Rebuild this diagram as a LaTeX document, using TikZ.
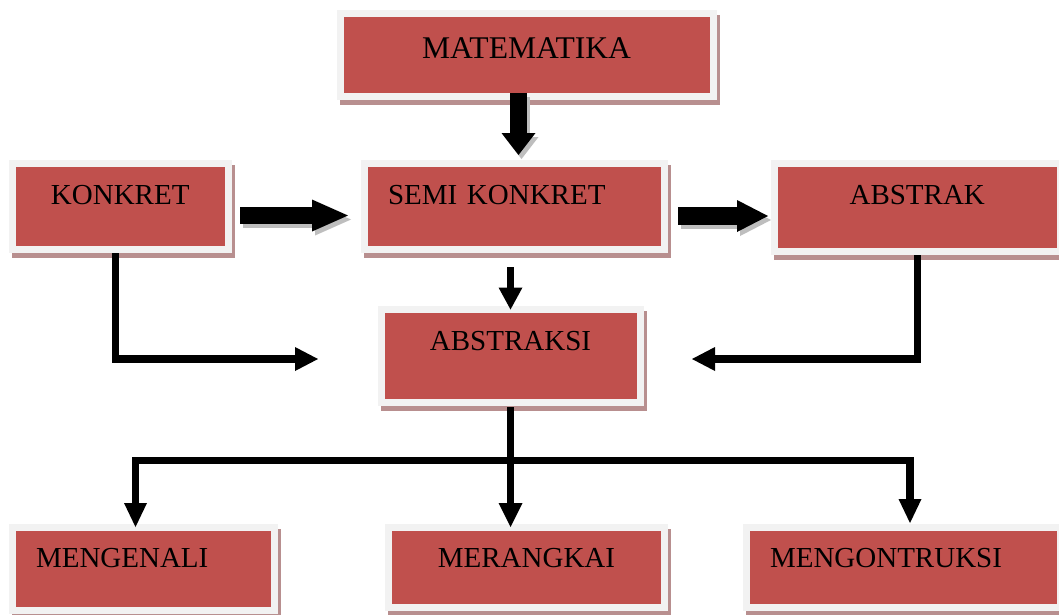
\documentclass[tikz,border=0pt]{standalone}
\usepackage{fontspec}
\setmainfont{Liberation Serif}
\usetikzlibrary{arrows.meta,calc}
\definecolor{boxred}{HTML}{C0504D}
\definecolor{boxframe}{HTML}{F2F2F2}
\definecolor{boxshadow}{RGB}{184,143,143}
\definecolor{arrowshadow}{RGB}{190,190,190}
\tikzset{
  box/.style={fill=boxred, draw=boxframe, line width=7pt, inner sep=0pt, outer sep=0pt,
    anchor=north west, text=black, font=\fontsize{29}{34}\selectfont,
    preaction={draw=boxshadow, fill=boxshadow, transform canvas={shift={(3,5)}}}},
  blockarrow/.style args={#1/#2/#3}{line width=#1, draw=black,
    -{Triangle[length=#3 0 0, width=#2 0 0, line width=0pt 0 0]}},
  blockshadow/.style={draw=arrowshadow, transform canvas={shift={(3,4)}}},
  thinarrow/.style args={#1/#2}{line width=7.5pt, draw=black, line join=miter,
    -{Triangle[length=#2 0 0, width=#1 0 0, line width=0pt 0 0]}},
  boththin/.style args={#1/#2}{line width=7.5pt, draw=black, line join=miter,
    {Triangle[length=#2 0 0, width=#1 0 0, line width=0pt 0 0]}-{Triangle[length=#2 0 0, width=#1 0 0, line width=0pt 0 0]}}
}
\begin{document}
\begin{tikzpicture}[x=1pt,y=-1pt]
\fill[white] (0,0) rectangle (1059,614);
\useasboundingbox (0,0) rectangle (1059,614);

% boxes
\node[box, font=\fontsize{31.6}{36}\selectfont, text width=373pt, align=center,
      text height=44.5pt, text depth=38.5pt] (mat) at (340,13.5) {MATEMATIKA};
\node[box, text width=216.5pt, align=center, text height=40.5pt, text depth=45.5pt]
      (kon) at (12,163.5) {KONKRET};
\node[box, text width=252pt, inner xsep=24pt, align=left, text height=40.5pt, text depth=45.5pt]
      (semi) at (364,163.5) {SEMI KONKRET};
\node[box, text width=286.5pt, align=center, text height=40.5pt, text depth=47.5pt]
      (abk) at (774,163.5) {ABSTRAK};
\node[box, text width=259pt, align=center, text height=40.5pt, text depth=52.5pt]
      (aks) at (381,309.5) {ABSTRAKSI};
\node[box, text width=214pt, inner xsep=24pt, align=left, text height=40pt, text depth=43.5pt]
      (men) at (12,527) {MENGENALI};
\node[box, text width=276pt, align=center, text height=40pt, text depth=40pt]
      (mer) at (388.5,527) {MERANGKAI};
\node[box, text width=267pt, inner xsep=23.5pt, align=left, text height=40pt, text depth=40.5pt]
      (mgk) at (746.5,527) {MENGONTRUKSI};

% free ends of connectors
\coordinate (a1s) at (518.5,93);
\coordinate (a1e) at (518.5,155);
\coordinate (a2s) at (240,215.5);
\coordinate (a2e) at (348,215.5);
\coordinate (a3s) at (678,216);
\coordinate (a3e) at (768,216);
\coordinate (k1) at (318,359);
\coordinate (k2) at (692,359);
\coordinate (s1) at (510.5,267);
\coordinate (bl) at (135.5,460.5);
\coordinate (br) at (910,460.5);

% block arrows with shadows
\draw[blockarrow=17pt/34pt/22pt, blockshadow] (a1s) -- (a1e);
\draw[blockarrow=17pt/32pt/36pt, blockshadow] (a2s) -- (a2e);
\draw[blockarrow=18pt/32pt/31pt, blockshadow] (a3s) -- (a3e);
\draw[blockarrow=17pt/34pt/22pt] (a1s) -- (a1e);
\draw[blockarrow=17pt/32pt/36pt] (a2s) -- (a2e);
\draw[blockarrow=18pt/32pt/31pt] (a3s) -- (a3e);

% thin connectors
\draw[thinarrow=24pt/23pt] ($(kon.south)+(-4.75,3.5)$) |- (k1);
\draw[thinarrow=24pt/23pt] ($(abk.south)+(0.25,3.5)$) |- (k2);
\draw[thinarrow=24pt/22pt] (s1) -- (aks.north);
\draw[thinarrow=24pt/24pt] ($(aks.south)+(0,4.5)$) -- (aks.south |- mer.north);
\draw[boththin=23pt/24pt] (bl |- men.north) -- (bl) -- (br) -- ($(br |- mgk.north)+(0,-4)$);
\end{tikzpicture}
\end{document}
